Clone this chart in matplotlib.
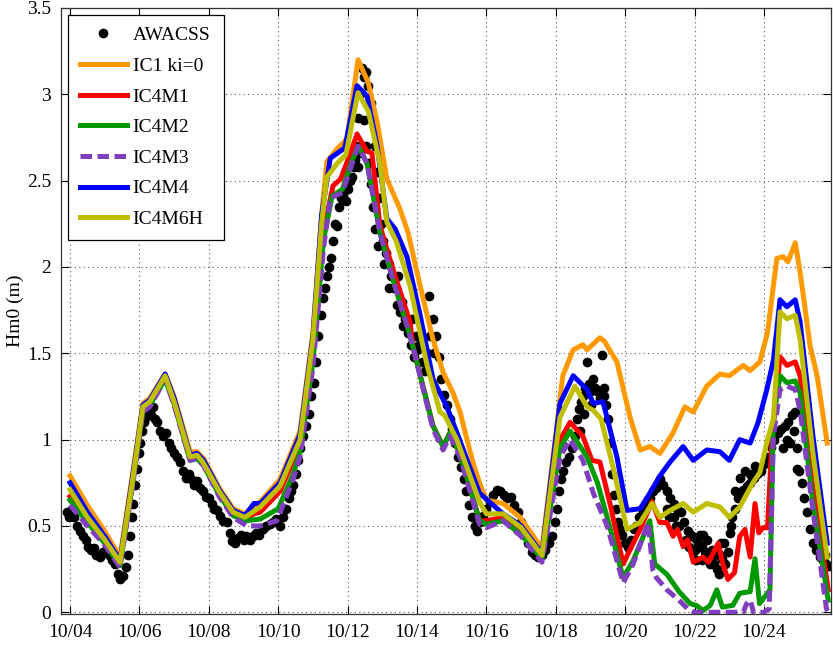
import matplotlib
matplotlib.use("Agg")
import matplotlib.pyplot as plt

# ---------------- data (day of October) ----------------
xtick_days = [4, 6, 8, 10, 12, 14, 16, 18, 20, 22, 24]
xtick_labels = ["10/04", "10/06", "10/08", "10/10", "10/12", "10/14",
                "10/16", "10/18", "10/20", "10/22", "10/24"]
ytick_vals = [0, 0.5, 1, 1.5, 2, 2.5, 3, 3.5]
ytick_labels = ["0", "0.5", "1", "1.5", "2", "2.5", "3", "3.5"]

obs_t = [3.90, 3.97, 4.05, 4.12, 4.20, 4.28, 4.37, 4.45, 4.53, 4.60, 4.68, 4.76, 4.86, 4.95,
         5.05, 5.12, 5.20, 5.30, 5.38, 5.45, 5.52, 5.60, 5.67, 5.73, 5.78, 5.82, 5.88, 5.93,
         5.98, 6.02, 6.08, 6.14, 6.20, 6.26, 6.32, 6.38, 6.45, 6.52, 6.60, 6.68, 6.76, 6.84,
         6.92, 7.00, 7.08, 7.17, 7.25, 7.33, 7.42, 7.50, 7.58, 7.66, 7.75, 7.83, 7.92, 8.00,
         8.08, 8.16, 8.24, 8.33, 8.42, 8.52, 8.60, 8.68, 8.75, 8.83, 8.92, 9.00, 9.08, 9.18,
         9.27, 9.36, 9.45, 9.55, 9.65, 9.75, 9.85, 9.95, 10.05, 10.14, 10.22, 10.30, 10.37,
         10.43, 10.50, 10.57, 10.64, 10.72, 10.80, 10.88, 10.95, 11.02, 11.10, 11.16, 11.22,
         11.28, 11.34, 11.40, 11.46, 11.52, 11.58, 11.64, 11.70, 11.76, 11.82, 11.88, 11.94,
         12.00, 12.06, 12.12, 12.18, 12.24, 12.30, 12.36, 12.42, 12.48, 12.54, 12.60, 12.66,
         12.72, 12.78, 12.84, 12.90, 12.96, 13.02, 13.10, 13.18, 13.26, 13.34, 13.42, 13.50,
         13.58, 13.66, 13.74, 13.82, 13.90, 13.98, 14.06, 14.14, 14.22, 14.30, 14.38, 14.46,
         14.54, 14.62, 14.70, 14.78, 14.86, 14.94, 15.02, 15.10, 15.18, 15.26, 15.34, 15.42,
         15.50, 15.58, 15.66, 15.74, 15.82, 15.90, 16.00, 16.10, 16.20, 16.30, 16.40, 16.50,
         16.60, 16.70, 16.80, 16.90, 17.00, 17.10, 17.20, 17.30, 17.40, 17.50, 17.60, 17.70,
         17.80, 17.90, 17.98, 18.04, 18.10, 18.16, 18.22, 18.30, 18.38, 18.46, 18.54, 18.60,
         18.66, 18.72, 18.78, 18.84, 18.90, 18.96, 19.02, 19.08, 19.14, 19.20, 19.26, 19.32,
         19.38, 19.44, 19.50, 19.56, 19.62, 19.68, 19.74, 19.80, 19.86, 19.92, 20.00, 20.08,
         20.16, 20.24, 20.32, 20.40, 20.50, 20.60, 20.70, 20.80, 20.90, 21.00, 21.10, 21.20,
         21.30, 21.40, 21.50, 21.60, 21.70, 21.80, 21.90, 22.00, 22.10, 22.20, 22.30, 22.40,
         22.50, 22.60, 22.70, 22.80, 22.88, 22.96, 23.02, 23.08, 23.16, 23.24, 23.32, 23.40,
         23.50, 23.60, 23.70, 23.80, 23.90, 24.00, 24.10, 24.20, 24.30, 24.40, 24.50, 24.60,
         24.70, 24.80, 24.88, 24.94, 25.00, 25.08, 25.16, 25.24, 25.32, 25.40, 25.50, 25.60,
         25.70, 25.80, 25.88,
         # additional scattered observations
         12.20, 12.30, 12.36, 12.46, 12.52, 12.62, 12.68, 12.74, 12.80, 12.88, 13.05, 13.20,
         13.45, 13.60, 13.85, 14.00, 14.35, 14.50, 21.95, 22.05, 22.25, 22.45, 22.65, 22.75,
         24.55, 24.65, 24.75, 24.85, 18.70, 18.80, 19.00, 19.40, 21.25, 21.45,
         21.20, 21.40, 21.55, 21.75, 21.85, 22.00, 22.15, 22.20, 22.35, 22.55, 22.70, 22.85,
         23.05, 23.15, 23.30, 23.45, 23.60, 23.75, 24.95, 25.75]
obs_v = [0.58, 0.55, 0.60, 0.55, 0.50, 0.47, 0.44, 0.42, 0.38, 0.36, 0.37, 0.33, 0.32, 0.35,
         0.36, 0.33, 0.30, 0.28, 0.22, 0.19, 0.21, 0.26, 0.33, 0.44, 0.55, 0.63, 0.74, 0.83,
         0.92, 0.98, 1.05, 1.10, 1.13, 1.17, 1.14, 1.19, 1.12, 1.10, 1.05, 1.02, 1.04, 0.98,
         0.95, 0.92, 0.90, 0.87, 0.82, 0.78, 0.80, 0.77, 0.74, 0.76, 0.72, 0.70, 0.67, 0.66,
         0.63, 0.60, 0.59, 0.56, 0.53, 0.52, 0.46, 0.41, 0.40, 0.43, 0.45, 0.42, 0.44, 0.42,
         0.44, 0.46, 0.45, 0.48, 0.50, 0.51, 0.52, 0.54, 0.50, 0.55, 0.60, 0.66, 0.70,
         0.74, 0.80, 0.88, 0.95, 1.02, 1.08, 1.15, 1.25, 1.33, 1.45, 1.60, 1.72,
         1.82, 1.88, 1.95, 2.00, 2.05, 2.15, 2.25, 2.24, 2.35, 2.40, 2.42, 2.38,
         2.45, 2.50, 2.52, 2.58, 2.70, 2.86, 3.00, 3.15, 3.10, 3.13, 3.05, 2.95,
         2.85, 2.70, 2.55, 2.40, 2.25, 2.15, 2.08, 2.02, 1.95, 1.88, 1.78, 1.74,
         1.80, 1.70, 1.62, 1.55, 1.48, 1.60, 1.55, 1.45, 1.40, 1.50, 1.60, 1.70,
         1.60, 1.48, 1.35, 1.26, 1.20, 1.12, 1.06, 0.98, 0.90, 0.84, 0.77, 0.70,
         0.62, 0.55, 0.50, 0.47, 0.52, 0.56, 0.60, 0.64, 0.68, 0.71, 0.70, 0.68,
         0.66, 0.67, 0.62, 0.58, 0.52, 0.45, 0.40, 0.35, 0.33, 0.32, 0.33, 0.36,
         0.40, 0.44, 0.52, 0.60, 0.70, 0.77, 0.82, 0.87, 0.90, 0.95, 1.02, 1.12,
         1.18, 1.22, 1.25, 1.30, 1.45, 1.32, 1.28, 1.35, 1.30, 1.28, 1.24, 1.49,
         1.25, 1.20, 1.12, 0.98, 0.80, 0.68, 0.60, 0.52, 0.48, 0.45, 0.40, 0.38,
         0.42, 0.48, 0.50, 0.55, 0.58, 0.62, 0.66, 0.70, 0.72, 0.77, 0.74, 0.70,
         0.66, 0.63, 0.60, 0.58, 0.52, 0.47, 0.45, 0.43, 0.40, 0.38, 0.35, 0.33,
         0.36, 0.33, 0.34, 0.31, 0.28, 0.35, 0.46, 0.55, 0.60, 0.66, 0.69, 0.71,
         0.73, 0.75, 0.78, 0.80, 0.82, 0.86, 0.90, 0.96, 1.00, 1.04, 1.06, 1.08,
         1.10, 1.14, 1.16, 0.95, 0.82, 0.75, 0.66, 0.58, 0.48, 0.40, 0.36, 0.32,
         0.30, 0.28, 0.27,
         2.62, 2.58, 2.66, 2.85, 2.70, 2.60, 2.48, 2.35, 2.22, 2.12, 2.02, 1.88,
         1.95, 1.66, 1.70, 1.52, 1.83, 1.50, 0.35, 0.30, 0.45, 0.28, 0.25, 0.40,
         0.95, 1.00, 0.98, 1.05, 1.05, 1.15, 1.20, 1.30, 0.55, 0.50,
         0.60, 0.55, 0.50, 0.42, 0.38, 0.36, 0.45, 0.30, 0.42, 0.28, 0.22, 0.40,
         0.50, 0.70, 0.78, 0.82, 0.80, 0.85, 0.83, 0.33]

t_ic1 = [4.0, 4.5, 5.0, 5.44, 5.8, 6.1, 6.3, 6.74, 7.0, 7.46, 7.66, 7.85, 8.3, 8.7, 9.04,
         9.3, 9.48, 10.05, 10.63, 11.0, 11.25, 11.4, 11.72, 11.98, 12.3, 12.59, 12.85, 13.13,
         13.5, 13.74, 14.09, 14.46, 14.75, 15.04, 15.24, 15.44, 15.61, 15.8, 16.0, 16.48,
         16.97, 17.6, 17.92, 18.2, 18.5, 18.78, 18.9, 19.27, 19.4, 19.76, 20.14, 20.43,
         20.71, 21.0, 21.38, 21.72, 21.96, 22.35, 22.73, 23.0, 23.4, 23.6, 23.88, 24.1,
         24.37, 24.55, 24.69, 24.9, 25.04, 25.33, 25.53, 25.82]
h_ic1 = [0.79, 0.62, 0.47, 0.32, 0.80, 1.21, 1.24, 1.38, 1.25, 0.93, 0.93, 0.89, 0.72, 0.60,
         0.57, 0.62, 0.64, 0.77, 1.05, 1.62, 2.30, 2.61, 2.69, 2.74, 3.20, 3.07, 2.84, 2.51,
         2.34, 2.20, 1.89, 1.58, 1.39, 1.27, 1.16, 1.00, 0.87, 0.75, 0.65, 0.63, 0.55, 0.37,
         0.90, 1.37, 1.52, 1.55, 1.52, 1.59, 1.57, 1.45, 1.13, 0.94, 0.96, 0.92, 1.04, 1.19,
         1.16, 1.31, 1.38, 1.37, 1.43, 1.40, 1.45, 1.62, 2.05, 2.06, 2.03, 2.14, 1.97, 1.54,
         1.37, 0.98]

t_m1 = [4.0, 4.5, 5.0, 5.44, 5.8, 6.1, 6.3, 6.74, 7.0, 7.46, 7.66, 7.85, 8.3, 8.7, 9.04,
        9.3, 9.48, 10.05, 10.63, 11.0, 11.3, 11.58, 11.8, 12.1, 12.27, 12.56, 12.7, 12.93,
        13.3, 13.8, 13.88, 14.46, 14.75, 14.95, 15.24, 15.8, 16.0, 16.48, 17.0, 17.6, 18.12,
        18.41, 18.78, 19.04, 19.27, 19.56, 19.94, 20.23, 20.43, 20.77, 21.0, 21.2, 21.38,
        21.5, 21.67, 21.8, 21.96, 22.24, 22.4, 22.68, 22.8, 22.96, 23.15, 23.3, 23.45, 23.6,
        23.74, 23.85, 23.97, 24.1, 24.23, 24.46, 24.66, 24.9, 25.04, 25.41, 25.85]
h_m1 = [0.67, 0.53, 0.41, 0.28, 0.75, 1.18, 1.21, 1.36, 1.21, 0.89, 0.90, 0.86, 0.69, 0.57,
        0.54, 0.57, 0.58, 0.70, 0.97, 1.50, 2.20, 2.47, 2.51, 2.67, 2.77, 2.67, 2.66, 2.24,
        1.99, 1.68, 1.54, 1.08, 0.96, 1.04, 0.92, 0.53, 0.53, 0.55, 0.47, 0.32, 1.00, 1.10,
        1.02, 0.88, 0.87, 0.63, 0.28, 0.40, 0.48, 0.64, 0.52, 0.52, 0.44, 0.48, 0.38, 0.42,
        0.29, 0.32, 0.29, 0.40, 0.29, 0.19, 0.23, 0.44, 0.48, 0.32, 0.63, 0.46, 0.49, 0.49,
        1.00, 1.48, 1.43, 1.45, 1.37, 0.73, 0.13]

t_m2 = [4.0, 4.5, 5.0, 5.44, 5.8, 6.1, 6.3, 6.74, 7.0, 7.46, 7.66, 7.85, 8.3, 8.7, 9.04,
        9.48, 10.0, 10.43, 10.63, 11.0, 11.3, 11.55, 11.85, 12.1, 12.3, 12.56, 12.93, 13.3,
        13.74, 13.88, 14.46, 14.75, 14.95, 15.24, 15.8, 16.0, 16.48, 17.0, 17.6, 18.12,
        18.41, 18.9, 19.2, 19.48, 19.94, 20.23, 20.71, 20.85, 21.2, 21.55, 21.87, 22.05,
        22.24, 22.45, 22.64, 22.8, 23.1, 23.3, 23.6, 23.74, 23.87, 24.17, 24.27, 24.46,
        24.66, 24.9, 25.04, 25.41, 25.85]
h_m2 = [0.65, 0.52, 0.40, 0.27, 0.74, 1.17, 1.20, 1.35, 1.21, 0.88, 0.89, 0.85, 0.68, 0.56,
        0.53, 0.54, 0.60, 0.80, 0.93, 1.45, 2.15, 2.41, 2.45, 2.60, 2.70, 2.60, 2.20, 1.93,
        1.64, 1.54, 1.08, 0.96, 1.04, 0.92, 0.53, 0.51, 0.53, 0.45, 0.31, 0.95, 1.05, 0.90,
        0.75, 0.55, 0.20, 0.30, 0.53, 0.28, 0.22, 0.12, 0.05, 0.04, 0.01, 0.04, 0.13, 0.03,
        0.04, 0.11, 0.12, 0.31, 0.05, 0.13, 1.12, 1.37, 1.33, 1.34, 1.27, 0.63, 0.07]

t_m3 = [4.0, 4.5, 5.0, 5.44, 5.8, 6.1, 6.3, 6.74, 7.0, 7.46, 7.66, 7.85, 8.3, 8.7, 9.1,
        9.48, 9.96, 10.43, 10.63, 11.0, 11.3, 11.5, 11.85, 12.3, 12.56, 12.93, 13.3, 13.74,
        13.88, 14.46, 14.75, 14.95, 15.24, 15.8, 16.0, 16.48, 17.0, 17.6, 18.12, 18.41,
        18.78, 19.08, 19.48, 19.94, 20.23, 20.66, 20.8, 20.9, 21.2, 21.55, 21.8, 22.0,
        23.4, 23.5, 23.6, 23.7, 24.0, 24.15, 24.27, 24.46, 24.66, 24.9, 25.04, 25.41,
        25.8, 25.85]
h_m3 = [0.62, 0.50, 0.39, 0.26, 0.73, 1.16, 1.19, 1.35, 1.20, 0.88, 0.89, 0.85, 0.67, 0.55,
        0.50, 0.50, 0.53, 0.77, 0.90, 1.42, 2.10, 2.40, 2.43, 2.70, 2.60, 2.20, 1.93, 1.64,
        1.54, 1.06, 0.94, 1.02, 0.90, 0.51, 0.49, 0.53, 0.44, 0.29, 0.90, 1.00, 0.88, 0.69,
        0.50, 0.17, 0.28, 0.52, 0.24, 0.20, 0.13, 0.07, 0.02, 0.00, 0.00, 0.05, 0.07, 0.00,
        0.00, 0.02, 1.02, 1.29, 1.31, 1.29, 1.17, 0.59, 0.02, 0.00]

t_m4 = [4.0, 4.5, 5.0, 5.44, 5.8, 6.1, 6.3, 6.74, 7.0, 7.46, 7.66, 7.85, 8.3, 8.7, 9.04,
        9.3, 9.48, 10.05, 10.63, 11.0, 11.25, 11.5, 11.92, 12.27, 12.56, 12.85, 13.13,
        13.37, 13.71, 14.09, 14.46, 14.86, 15.15, 15.8, 16.48, 17.0, 17.6, 18.12, 18.5,
        18.9, 19.08, 19.36, 19.76, 20.05, 20.43, 20.71, 21.0, 21.29, 21.67, 21.96, 22.35,
        22.73, 23.0, 23.3, 23.6, 23.83, 24.08, 24.27, 24.46, 24.66, 24.9, 25.04, 25.41, 25.82]
h_m4 = [0.75, 0.58, 0.44, 0.30, 0.78, 1.20, 1.23, 1.38, 1.24, 0.91, 0.92, 0.88, 0.71, 0.59,
        0.56, 0.63, 0.63, 0.75, 1.03, 1.60, 2.30, 2.63, 2.69, 3.05, 2.99, 2.70, 2.28, 2.22,
        2.06, 1.72, 1.35, 1.19, 1.04, 0.69, 0.57, 0.50, 0.34, 1.21, 1.37, 1.29, 1.21, 1.22,
        0.90, 0.59, 0.60, 0.69, 0.79, 0.87, 0.96, 0.88, 0.94, 0.93, 0.88, 1.00, 0.98, 1.10,
        1.29, 1.46, 1.81, 1.77, 1.81, 1.68, 1.02, 0.40]

t_m6h = [4.0, 4.5, 5.0, 5.44, 5.8, 6.1, 6.3, 6.74, 7.0, 7.46, 7.66, 7.83, 8.3, 8.7, 9.04,
         9.48, 10.05, 10.63, 11.0, 11.25, 11.4, 11.7, 11.95, 12.3, 12.6, 12.93, 13.13, 13.4,
         13.8, 14.29, 14.66, 14.8, 15.15, 15.8, 16.0, 16.48, 17.0, 17.6, 18.12, 18.55, 18.9,
         19.08, 19.3, 19.65, 20.05, 20.43, 20.77, 21.0, 21.29, 21.67, 21.96, 22.35, 22.73,
         23.0, 23.3, 23.68, 23.88, 24.1, 24.27, 24.46, 24.66, 24.9, 25.04, 25.41, 25.82]
h_m6h = [0.71, 0.55, 0.42, 0.29, 0.76, 1.19, 1.22, 1.37, 1.22, 0.90, 0.91, 0.87, 0.70, 0.58,
         0.55, 0.61, 0.73, 1.00, 1.58, 2.25, 2.52, 2.60, 2.65, 3.01, 2.90, 2.60, 2.26, 2.15,
         1.89, 1.43, 1.16, 1.14, 1.00, 0.64, 0.57, 0.57, 0.49, 0.33, 1.13, 1.31, 1.19, 1.17,
         1.12, 0.84, 0.48, 0.52, 0.63, 0.55, 0.59, 0.63, 0.58, 0.63, 0.61, 0.55, 0.61, 0.75,
         0.81, 1.00, 1.12, 1.74, 1.70, 1.72, 1.58, 0.92, 0.32]

# ---------------- figure ----------------
plt.rcParams['font.family'] = ['Liberation Serif', 'DejaVu Serif']
W, H = 833, 652
fig = plt.figure(figsize=(W / 100, H / 100), dpi=100)
ax = fig.add_axes([61 / W, 1 - 614 / H, 770 / W, 606 / H])

lw = 3.6
ax.plot(obs_t, obs_v, linestyle='none', marker='o', markersize=6,
        color='black', label='AWACSS', zorder=2)
ax.plot(t_ic1, h_ic1, color='#FF9900', lw=lw, label='IC1 ki=0', zorder=3)
ax.plot(t_m1, h_m1, color='#FF0000', lw=lw, label='IC4M1', zorder=3)
ax.plot(t_m2, h_m2, color='#009900', lw=lw, label='IC4M2', zorder=3)
ax.plot(t_m3, h_m3, color='#7F3FBF', lw=lw, dashes=(2.3, 1.1), label='IC4M3', zorder=3)
ax.plot(t_m4, h_m4, color='#0000FF', lw=lw, label='IC4M4', zorder=3)
ax.plot(t_m6h, h_m6h, color='#BFBF00', lw=lw, label='IC4M6H', zorder=3)

ax.set_xlim(3.74, 25.93)
ax.set_ylim(-0.01, 3.5)
ax.set_xticks(xtick_days)
ax.set_xticklabels(xtick_labels)
ax.set_yticks(ytick_vals)
ax.set_yticklabels(ytick_labels)
ax.tick_params(direction='in', length=6, width=0.8, labelsize=14, top=True, right=True,
               pad=7)
ax.grid(True, linestyle=(0, (1, 3)), color='0.35', linewidth=0.8)
for s in ax.spines.values():
    s.set_linewidth(0.9)
    s.set_color('0.2')
ax.set_ylabel('Hm0 (m)', fontsize=14, labelpad=2)

# legend box: x 68..224 px, top at 15 px
x0 = (68 - 61) / 770
wl = (224 - 68) / 770
ytop = (614 - 15) / 606
leg = ax.legend(loc='upper left', bbox_to_anchor=(x0, ytop - 0.5, wl, 0.5), mode='expand',
                fontsize=14, numpoints=1, handlelength=2.45,
                handletextpad=0.28, labelspacing=0.67, borderaxespad=0.0,
                borderpad=0.6, fancybox=False, framealpha=1, edgecolor='black')
leg.get_frame().set_linewidth(0.9)

fig.savefig('out.png', dpi=100)
